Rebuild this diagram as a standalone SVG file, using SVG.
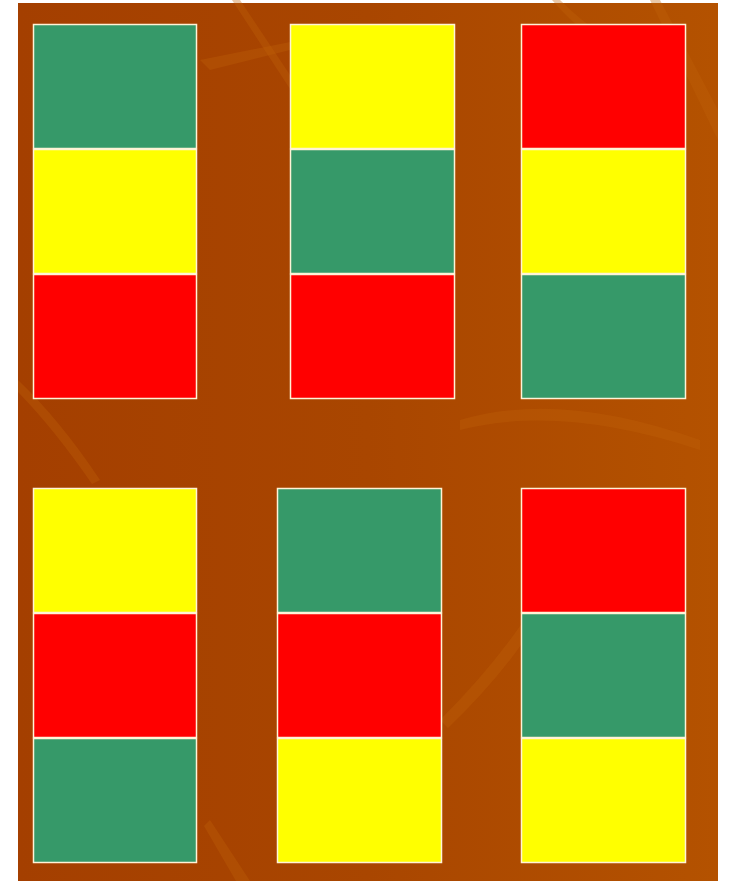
<svg xmlns="http://www.w3.org/2000/svg" width="730" height="881" viewBox="0 0 730 881">
  <defs>
    <linearGradient id="bg" x1="0" y1="0" x2="1" y2="0">
      <stop offset="0" stop-color="#A43F00"/>
      <stop offset="0.5" stop-color="#A94600"/>
      <stop offset="1" stop-color="#B45200"/>
    </linearGradient>
    <style>
      .g{fill:#369969}
      .y{fill:#FFFF00}
      .r{fill:#FF0000}
      .b{stroke:#FFF3D6;stroke-width:1.5}
      .leaf{fill:#C0600A;opacity:0.35}
    </style>
  </defs>
  <rect x="0" y="0" width="730" height="881" fill="#FFFFFF"/>
  <rect x="18" y="3" width="700" height="878" fill="url(#bg)"/>
  <g id="background-leaves">
    <path class="leaf" d="M200 60 L300 40 L290 50 L210 70 Z"/>
    <path class="leaf" d="M240 0 L300 90 L292 92 L232 0 Z"/>
    <path class="leaf" d="M560 0 Q600 40 650 60 L640 66 Q590 44 552 0 Z"/>
    <path class="leaf" d="M660 0 L718 110 L718 140 L650 0 Z"/>
    <path class="leaf" d="M460 420 Q560 390 700 440 L700 450 Q560 404 460 430 Z"/>
    <path class="leaf" d="M440 720 Q520 640 560 560 L566 566 Q530 650 448 728 Z"/>
    <path class="leaf" d="M210 820 L250 881 L236 881 L204 826 Z"/>
    <path class="leaf" d="M18 380 Q60 420 100 480 L92 484 Q55 430 18 392 Z"/>
  </g>
  <g id="top-left-stack">
    <rect class="g b" x="33.5" y="24.5" width="163" height="124"/>
    <rect class="y b" x="33.5" y="149.5" width="163" height="124"/>
    <rect class="r b" x="33.5" y="274.5" width="163" height="124"/>
  </g>
  <g id="top-middle-stack">
    <rect class="y b" x="290.5" y="24.5" width="164" height="124"/>
    <rect class="g b" x="290.5" y="149.5" width="164" height="124"/>
    <rect class="r b" x="290.5" y="274.5" width="164" height="124"/>
  </g>
  <g id="top-right-stack">
    <rect class="r b" x="521.5" y="24.5" width="164" height="124"/>
    <rect class="y b" x="521.5" y="149.5" width="164" height="124"/>
    <rect class="g b" x="521.5" y="274.5" width="164" height="124"/>
  </g>
  <g id="bottom-left-stack">
    <rect class="y b" x="33.5" y="488.5" width="163" height="124"/>
    <rect class="r b" x="33.5" y="613.5" width="163" height="124"/>
    <rect class="g b" x="33.5" y="738.5" width="163" height="124"/>
  </g>
  <g id="bottom-middle-stack">
    <rect class="g b" x="277.5" y="488.5" width="164" height="124"/>
    <rect class="r b" x="277.5" y="613.5" width="164" height="124"/>
    <rect class="y b" x="277.5" y="738.5" width="164" height="124"/>
  </g>
  <g id="bottom-right-stack">
    <rect class="r b" x="521.5" y="488.5" width="164" height="124"/>
    <rect class="g b" x="521.5" y="613.5" width="164" height="124"/>
    <rect class="y b" x="521.5" y="738.5" width="164" height="124"/>
  </g>
  <g id="connectors"/>
</svg>
